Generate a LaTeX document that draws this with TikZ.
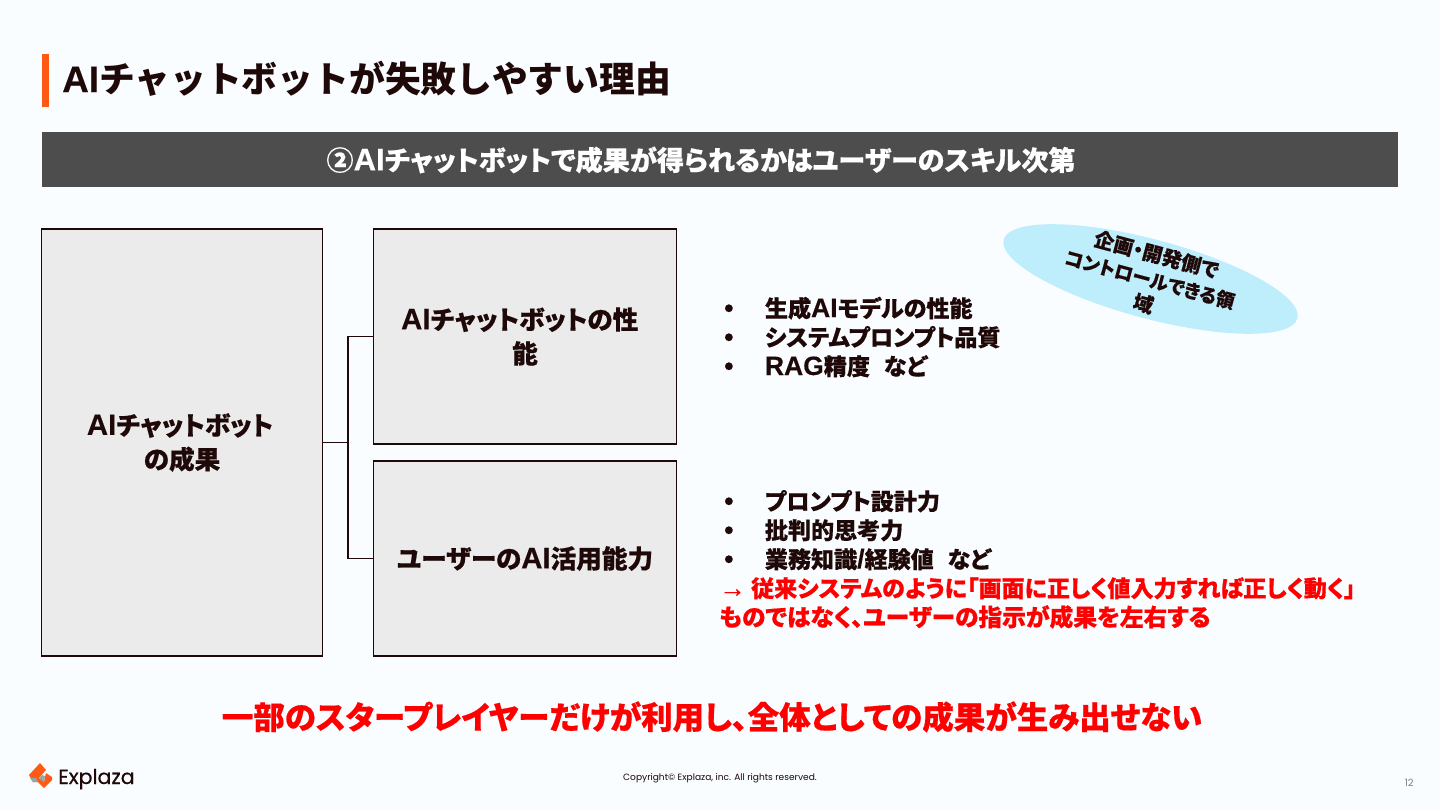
\documentclass[tikz,border=0pt]{standalone}
\usepackage{fontspec}
\usetikzlibrary{shapes.geometric}
\setmainfont{Noto Sans CJK JP}[RawFeature=+palt,BoldFeatures={FakeBold=0.5}]
\newfontfamily\plain{Noto Sans CJK JP}
\newfontfamily\latn{Liberation Sans}[Scale=1.15,BoldFeatures={FakeBold=0.3}]
\newfontfamily\popp{Poppins}
\newfontfamily\poppb{Poppins}[FakeBold=0.5]
\newcommand{\AIx}{{\latn AI}}
\newcommand{\bul}{\makebox[30.5pt][l]{\latn •}}
\definecolor{pagebg}{HTML}{F9FDFF}
\definecolor{ink}{HTML}{1E0808}
\definecolor{boxfill}{HTML}{EBEBEB}
\definecolor{band}{HTML}{4D4D4D}
\definecolor{accent}{HTML}{FF5A14}
\definecolor{sky}{HTML}{BEEDFB}
\definecolor{redtext}{HTML}{FF0000}
\definecolor{logoshade}{HTML}{8FA9AE}
\tikzset{
  x=0.75pt,y=-0.75pt,
  panel/.style={draw=ink,line width=1pt,fill=boxfill,minimum width=0pt,inner sep=0pt,font=\bfseries\fontsize{19.2}{25.5}\selectfont,text=ink,align=center},
  conn/.style={draw=ink,line width=1pt},
  item/.style={anchor=base west,inner sep=0pt,font=\bfseries\fontsize{17.3}{20}\selectfont,text=ink},
  reditem/.style={item,text=redtext},
}
\begin{document}
\begin{tikzpicture}
\useasboundingbox (0,0) rectangle (1440,810);
\fill[pagebg] (0,0) rectangle (1440,810);
\fill[accent] (42,54) rectangle (49,107);
\node[anchor=base west,inner sep=0pt,text=ink,font=\plain\bfseries\fontsize{26.85}{30}\selectfont] (title) at (62,92) {{\latn\fontsize{24}{30}\selectfont AI}チャットボットが失敗しやすい理由};
\node[fill=band,minimum width=1356*0.75pt,minimum height=55*0.75pt,inner sep=0pt] (banner) at (720,159.5) {};
\node[inner sep=0pt,text=white,font=\bfseries\fontsize{20.35}{24}\selectfont] (bannertext) at (701,160) {②\AIx チャットボットで成果が得られるかはユーザーのスキル次第};

\node[panel,minimum width=281*0.75pt,minimum height=427*0.75pt] (result) at (182,442.5) {\AIx チャットボット\rule{3pt}{0pt}\\の成果};
\node[panel,minimum width=303*0.75pt,minimum height=215*0.75pt] (perf) at (525,336.5) {\AIx チャットボットの性\rule{8pt}{0pt}\\能};
\node[panel,minimum width=303*0.75pt,minimum height=195*0.75pt] (skill) at (525,558.5) {ユーザーの\AIx 活用能力};
\coordinate (junction) at (348,442.5);
\draw[conn] (result.east) -- (junction);
\draw[conn] (junction) |- (perf.west);
\draw[conn] (junction) |- (skill.west);

\node[ellipse,fill=sky,rotate=-15,minimum width=304*0.75pt,minimum height=79*0.75pt,inner sep=0pt] (oval) at (1150.5,279) {};
\node[rotate=-15,inner sep=0pt,align=center,text=ink,font=\bfseries\fontsize{15}{19}\selectfont] (ovaltext) at (1150,279) {企画・開発側で\\{\fontsize{14}{19}\selectfont コントロールできる領}\\域};

\node[item] (a1) at (724,317) {\bul 生成\AIx モデルの性能};
\node[item] (a2) at (724,346) {\bul システムプロンプト品質};
\node[item] (a3) at (724,375) {\bul {\latn RAG}精度\hspace{0.6em}など};
\node[item] (b1) at (724,510) {\bul プロンプト設計力};
\node[item] (b2) at (724,539) {\bul 批判的思考力};
\node[item] (b3) at (724,568) {\bul 業務知識{\latn /}経験値\hspace{0.6em}など};
\node[reditem] (r1) at (719,597) {{\latn →} 従来システムのように「画面に正しく値入力すれば正しく動く」};
\node[reditem,font=\bfseries\fontsize{17.8}{20}\selectfont] (r2) at (719,626) {ものではなく、ユーザーの指示が成果を左右する};
\node[anchor=base,inner sep=0pt,text=redtext,font=\bfseries\fontsize{23.64}{26}\selectfont] (concl) at (712,729) {一部のスタープレイヤーだけが利用し、全体としての成果が生み出せない};

\fill[accent] (29,775) -- (40,763) -- (46,770) -- (39,778) -- (44,782) -- (46,773) -- (52,777) -- (52,780) -- (44,788) -- (38,782) -- (33,782) -- cycle;
\fill[logoshade] (30,778) -- (33,782) -- (38,782) -- (36,778) -- cycle;
\fill[logoshade] (39,778) -- (44,782) -- (45,776) -- (42,775) -- cycle;
\node[anchor=base west,inner sep=0pt,text=ink,font=\poppb\fontsize{15.4}{16}\selectfont] (brand) at (58,784) {Explaza};
\node[anchor=base,inner sep=0pt,text=ink,font=\popp\fontsize{6.8}{8}\selectfont] (copy) at (720,780) {Copyright© Explaza, inc. All rights reserved.};
\node[anchor=base east,inner sep=0pt,text=gray,font=\popp\fontsize{7.5}{9}\selectfont] (page) at (1414,786) {12};
\end{tikzpicture}
\end{document}
